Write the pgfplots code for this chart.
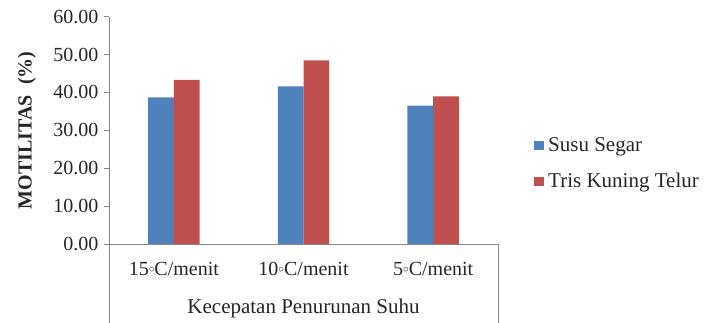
\documentclass[border=0pt]{standalone}
\usepackage{pgfplots}
\pgfplotsset{compat=1.18}
\usepackage{graphicx}
\usepackage{fontspec}
\setmainfont{Liberation Serif}
\definecolor{sblue}{HTML}{4F81BD}
\definecolor{sred}{HTML}{C0504D}
\definecolor{axgray}{HTML}{868686}
\newcommand{\degc}{\raisebox{0.35ex}{\scalebox{0.55}{$\circ$}}}
\begin{document}
\begin{tikzpicture}
\useasboundingbox (0,0) rectangle (708pt,323pt);
\begin{axis}[
  at={(109pt,79pt)}, anchor=south west,
  scale only axis, width=389pt, height=227.3pt,
  ybar=0pt, bar width=25.7pt,
  xmin=-0.5, xmax=2.5, ymin=0, ymax=60,
  xtick=data, xticklabels={15\degc C/menit,10\degc C/menit,5\degc C/menit},
  ytick={0,10,...,60},
  axis x line=bottom, axis y line=left,
  axis line style={-, axgray, line width=0.8pt},
  x axis line style={draw=axgray},
  major x tick style={draw=none},
  ytick style={axgray, line width=0.8pt},
  tick align=outside, major tick length=5pt,
  /pgf/number format/assume math mode=true,
  tick label style={font=\fontsize{20}{22}\selectfont, text=black!85},
  yticklabel style={xshift=-2pt, /pgf/number format/.cd, fixed, fixed zerofill, precision=2},
  xticklabel style={yshift=-10pt},
  xlabel={Kecepatan Penurunan Suhu},
  every axis x label/.style={at={(axis description cs:0.5,-0.2816)}, anchor=center,
    font=\fontsize{21}{23}\selectfont, text=black!85},
  ylabel={\textbf{MOTILITAS~~(\%)}},
  every axis y label/.style={at={(axis description cs:-0.211,0.5)}, rotate=90, anchor=center,
    font=\fontsize{20}{22}\selectfont, text=black!85},
  clip=false,
  legend style={at={(1,0.354)}, anchor=west, xshift=33pt, draw=none, fill=none,
    font=\fontsize{21}{23}\selectfont, text=black!85, row sep=18pt,
    nodes={inner sep=1pt}},
  legend cell align=left,
  legend image code/.code={\fill[#1] (0pt,-4.7pt) rectangle (9.7pt,4.7pt); \path (13pt,0pt);},
]
\addplot[fill=sblue, draw=none] coordinates {(0,38.7) (1,41.6) (2,36.5)};
\addplot[fill=sred, draw=none] coordinates {(0,43.3) (1,48.5) (2,39.0)};
\legend{Susu Segar, Tris Kuning Telur}
\draw[axgray, line width=0.8pt] (rel axis cs:0,0) -- ++(0pt,-80pt);
\draw[axgray, line width=0.8pt] (rel axis cs:1,0) -- ++(0pt,-80pt);
\end{axis}
\end{tikzpicture}
\end{document}
